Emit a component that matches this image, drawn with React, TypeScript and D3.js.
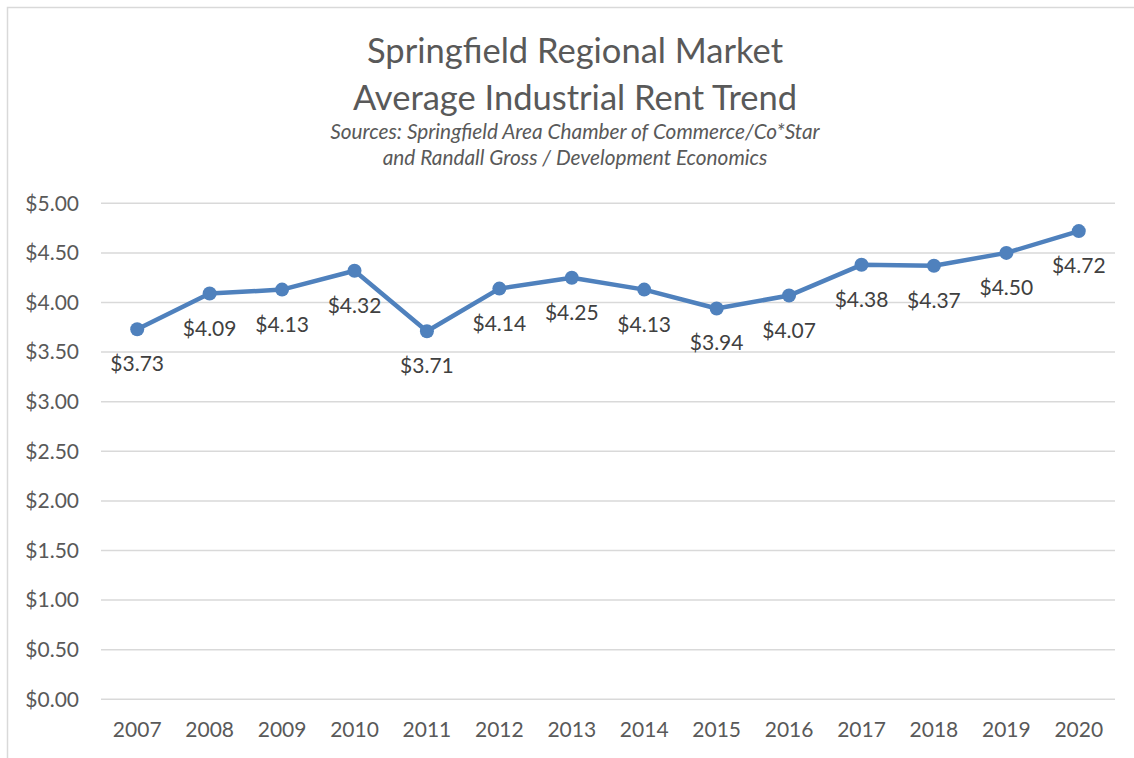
import React from "react";
import * as d3 from "d3";

const years = ["2007","2008","2009","2010","2011","2012","2013","2014","2015","2016","2017","2018","2019","2020"];
const rents = [3.73, 4.09, 4.13, 4.32, 3.71, 4.14, 4.25, 4.13, 3.94, 4.07, 4.38, 4.37, 4.50, 4.72];
const yTicks = [0, 0.5, 1, 1.5, 2, 2.5, 3, 3.5, 4, 4.5, 5];
const titleLines = ["Springfield Regional Market", "Average Industrial Rent Trend"];
const subtitleLines = ["Sources: Springfield Area Chamber of Commerce/Co*Star", "and Randall Gross / Development Economics"];

const W = 1134, H = 758;
const FONT = "Lato, 'Open Sans', sans-serif";

export default function App() {
  const x = d3.scaleBand<string>().domain(years).range([101, 1115]);
  const y = d3.scaleLinear().domain([0, 5]).range([699.3, 203.3]);
  const cx = (d: string) => (x(d) as number) + x.bandwidth() / 2;
  const line = d3.line<number>().x((_, i) => cx(years[i])).y((d) => y(d));
  const fmt = (v: number) => "$" + v.toFixed(2);
  const cxMid = 575;
  return (
    <svg width={W} height={H} style={{ position: "absolute", left: 0, top: 0, background: "#fff" }}>
      <rect x={7.5} y={7.5} width={W + 10} height={H + 10} fill="#fff" stroke="#d9d9d9" strokeWidth={1.5} />
      {titleLines.map((t, i) => (
        <text key={t} x={cxMid} y={63 + i * 47} textAnchor="middle" fontFamily={FONT} fontSize={34.5} fill="#595959">{t}</text>
      ))}
      {subtitleLines.map((t, i) => (
        <text key={t} x={cxMid} y={138.5 + i * 26} textAnchor="middle" fontFamily={FONT} fontStyle="italic" fontSize={20.8} fill="#595959">{t}</text>
      ))}
      {yTicks.map((t) => (
        <g key={t}>
          <line x1={101} x2={1115} y1={y(t)} y2={y(t)} stroke="#d9d9d9" strokeWidth={1.5} />
          <text x={79} y={y(t)} dy="0.35em" textAnchor="end" fontFamily={FONT} fontSize={21} fill="#595959">{fmt(t)}</text>
        </g>
      ))}
      {years.map((yr) => (
        <text key={yr} x={cx(yr)} y={737} textAnchor="middle" fontFamily={FONT} fontSize={21} fill="#595959">{yr}</text>
      ))}
      <path d={line(rents) || ""} fill="none" stroke="#4f81bd" strokeWidth={4.5} strokeLinejoin="round" />
      {rents.map((v, i) => (
        <circle key={i} cx={cx(years[i])} cy={y(v)} r={7} fill="#4f81bd" />
      ))}
      {rents.map((v, i) => (
        <text key={"l" + i} x={cx(years[i])} y={y(v) + 42} textAnchor="middle" fontFamily={FONT} fontSize={21} fill="#404040">{fmt(v)}</text>
      ))}
    </svg>
  );
}
